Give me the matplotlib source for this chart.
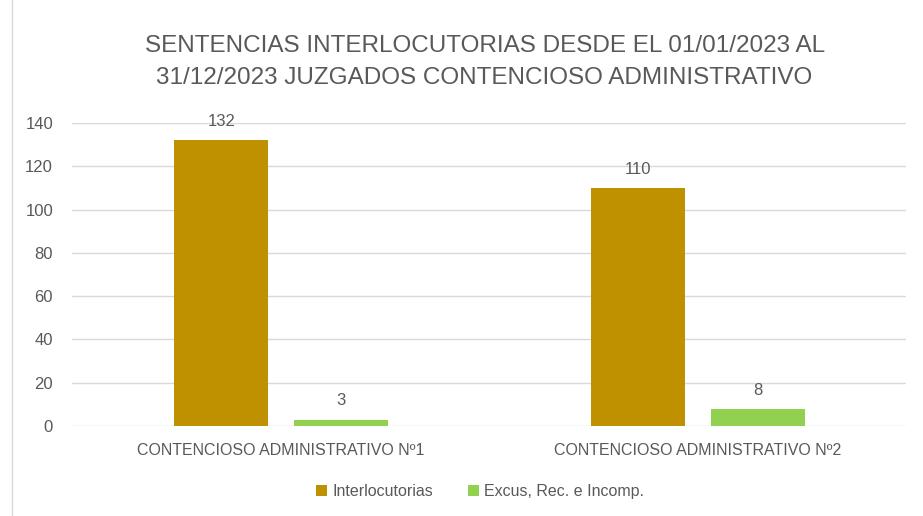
import numpy as np
import matplotlib.pyplot as plt
from matplotlib import font_manager

categories = ["CONTENCIOSO ADMINISTRATIVO Nº1", "CONTENCIOSO ADMINISTRATIVO Nº2"]
series_names = ["Interlocutorias", "Excus, Rec. e Incomp."]
interlocutorias = [132, 110]
excus = [3, 8]

names = {f.name for f in font_manager.fontManager.ttflist}
fam = "Liberation Sans Narrow" if "Liberation Sans Narrow" in names else "Liberation Sans"
plt.rcParams['font.family'] = [fam, 'DejaVu Sans']

TXT = '#595959'
colors = ['#BF9000', '#92D050']

fig = plt.figure(figsize=(9.23, 5.16), dpi=100)
ax = fig.add_axes([0.0785, 0.1744, 0.9036, 0.5872])

x = np.arange(len(categories))
w = 0.225
off = 0.143
b1 = ax.bar(x - off, interlocutorias, w, color=colors[0], label=series_names[0], zorder=3)
b2 = ax.bar(x + off, excus, w, color=colors[1], label=series_names[1], zorder=3)
for bars in (b1, b2):
    ax.bar_label(bars, padding=8, fontsize=12, color=TXT)

ax.set_xlim(-0.5, 1.5)
ax.set_ylim(0, 140)
ax.set_yticks(range(0, 141, 20))
ax.set_xticks(x)
ax.set_xticklabels(categories)
ax.tick_params(axis='x', length=0, pad=12, labelsize=11.5, labelcolor=TXT)
ax.tick_params(axis='y', length=0, pad=14, labelsize=12, labelcolor=TXT)
ax.grid(axis='y', color='#D9D9D9', linewidth=1, zorder=0)
for s in ax.spines.values():
    s.set_visible(False)

fig.text(0.525, 0.88, "SENTENCIAS INTERLOCUTORIAS DESDE EL 01/01/2023 AL\n31/12/2023 JUZGADOS CONTENCIOSO ADMINISTRATIVO",
         ha='center', va='center', fontsize=17.5, color=TXT, linespacing=1.55)

leg = fig.legend(loc='center', bbox_to_anchor=(0.52, 0.048), ncol=2, frameon=False,
                 fontsize=11.5, handlelength=0.7, handleheight=0.7, handletextpad=0.3,
                 columnspacing=2.2)
for t in leg.get_texts():
    t.set_color(TXT)

# chart frame edge on the left
fig.add_artist(plt.Line2D([0.013, 0.013], [0.0, 1.0], color='#D9D9D9', linewidth=1))

plt.savefig('out.png', dpi=100)
